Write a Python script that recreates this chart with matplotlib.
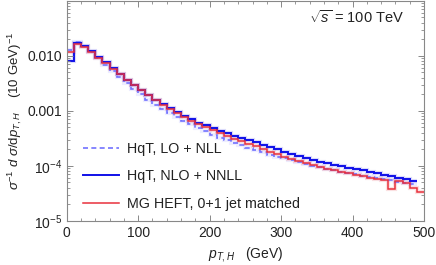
import numpy as np
import matplotlib.pyplot as plt
from matplotlib.ticker import FixedLocator, LogLocator, NullFormatter, MultipleLocator

plt.rcParams['font.family'] = ['Liberation Sans', 'DejaVu Sans']
plt.rcParams['mathtext.fontset'] = 'custom'
plt.rcParams['mathtext.rm'] = 'Liberation Sans'
plt.rcParams['mathtext.it'] = 'Liberation Sans:italic'

# bins of 10 GeV
edges_mg = np.arange(0, 510, 10)
edges_hqt = np.arange(0, 500, 10)

# HqT, NLO + NNLL (0..490)
nlo_nnll = [0.0079, 0.0174, 0.0150, 0.0122, 0.0097, 0.0076, 0.0060, 0.0047, 0.0037, 0.0030,
            0.0024, 0.00195, 0.00160, 0.00133, 0.00112, 0.00095, 0.00081, 0.00070, 0.00061, 0.00054,
            0.00048, 0.00043, 0.00039, 0.00035, 0.00032, 0.00029, 0.000265, 0.000240, 0.000218, 0.000198,
            0.000180, 0.000165, 0.000152, 0.000140, 0.000129, 0.000119, 0.000111, 0.000104, 0.000097, 0.000091,
            0.000086, 0.000082, 0.000078, 0.000073, 0.000069, 0.000065, 0.000061, 0.000057, 0.000052]

# HqT, LO + NLL (0..490)
lo_nll = [0.0126, 0.0180, 0.0150, 0.0118, 0.0090, 0.0069, 0.0053, 0.0041, 0.0032, 0.0025,
          0.00198, 0.00160, 0.00130, 0.00108, 0.00091, 0.00077, 0.00066, 0.00057, 0.00049, 0.00043,
          0.00037, 0.00032, 0.00029, 0.00026, 0.000235, 0.000212, 0.000192, 0.000175, 0.000160, 0.000147,
          0.000136, 0.000126, 0.000117, 0.000109, 0.000101, 0.000094, 0.000088, 0.000083, 0.000078, 0.000074,
          0.000070, 0.000066, 0.000063, 0.000060, 0.000057, 0.000054, 0.000051, 0.000048, 0.000046]

# MG HEFT, 0+1 jet matched (0..500)
mg_heft = [0.0118, 0.0162, 0.0143, 0.0118, 0.0093, 0.0073, 0.0058, 0.0046, 0.0036, 0.0029,
           0.00235, 0.0019, 0.00155, 0.00128, 0.00107, 0.00090, 0.00077, 0.00066, 0.00057, 0.00050,
           0.00044, 0.00039, 0.00035, 0.00031, 0.00028, 0.00025, 0.000225, 0.000200, 0.000180, 0.000162,
           0.000147, 0.000133, 0.000122, 0.000113, 0.000103, 0.000096, 0.000089, 0.000083, 0.000078, 0.000073,
           0.000069, 0.000065, 0.000061, 0.000058, 0.000055, 0.0000375, 0.000053, 0.000048, 0.000040, 0.000033]

c_dash = '#7272ff'
c_blue = '#1010e8'
c_red = '#e8303c'

fig = plt.figure(figsize=(4.36, 2.65), dpi=100)
ax = fig.add_axes([0.153, 0.167, 0.8195, 0.83])

# light halos
ax.stairs(lo_nll, edges_hqt, color=c_dash, lw=3.0, alpha=0.12, baseline=None)
ax.stairs(nlo_nnll, edges_hqt, color=c_blue, lw=3.0, alpha=0.15, baseline=None)
ax.stairs(mg_heft, edges_mg, color=c_red, lw=3.0, alpha=0.15, baseline=None)

ax.stairs(lo_nll, edges_hqt, color=c_dash, lw=1.2, ls=(0, (3, 2)), baseline=None,
          label='HqT, LO + NLL')
ax.stairs(nlo_nnll, edges_hqt, color=c_blue, lw=1.4, baseline=None,
          label='HqT, NLO + NNLL')
ax.stairs(mg_heft, edges_mg, color=c_red, lw=1.1, baseline=None,
          label='MG HEFT, 0+1 jet matched')

ax.set_yscale('log')
ax.set_xlim(0, 500)
ax.set_ylim(1e-5, 0.1)

ax.yaxis.set_major_locator(FixedLocator([1e-5, 1e-4, 1e-3, 1e-2]))
ax.set_yticklabels([r'$10^{-5}$', r'$10^{-4}$', '0.001', '0.010'])
ax.yaxis.set_minor_locator(LogLocator(base=10, subs=np.arange(2, 10)))
ax.yaxis.set_minor_formatter(NullFormatter())
ax.xaxis.set_major_locator(MultipleLocator(100))
ax.xaxis.set_minor_locator(MultipleLocator(20))

for s in ax.spines.values():
    s.set_color('#888888')
    s.set_linewidth(0.8)
ax.tick_params(which='both', direction='in', top=True, right=True, colors='#888888',
               labelcolor='#222222', labelsize=10)
ax.tick_params(which='major', length=4, width=0.7)
ax.tick_params(which='minor', length=2.2, width=0.6)

ax.set_xlabel(r'$p_{T,H}$   (GeV)', fontsize=10, color='#222222', labelpad=4)
ax.set_ylabel(r'$\sigma^{-1}\ d\ \sigma/\mathrm{d}p_{T,H}$    (10 GeV)$^{-1}$',
              fontsize=9.5, color='#222222', labelpad=2)

ax.text(0.945, 0.925, r'$\sqrt{s}$ = 100 TeV', transform=ax.transAxes, ha='right',
        va='center', fontsize=10.5, color='#222222')

leg = ax.legend(loc='lower left', bbox_to_anchor=(0.017, 0.0), frameon=False, fontsize=10.3,
                handlelength=2.5, handletextpad=0.6, labelspacing=0.95, borderaxespad=0.4,
                borderpad=0.3)
for t in leg.get_texts():
    t.set_color('#222222')

fig.savefig('out.png', dpi=100)
